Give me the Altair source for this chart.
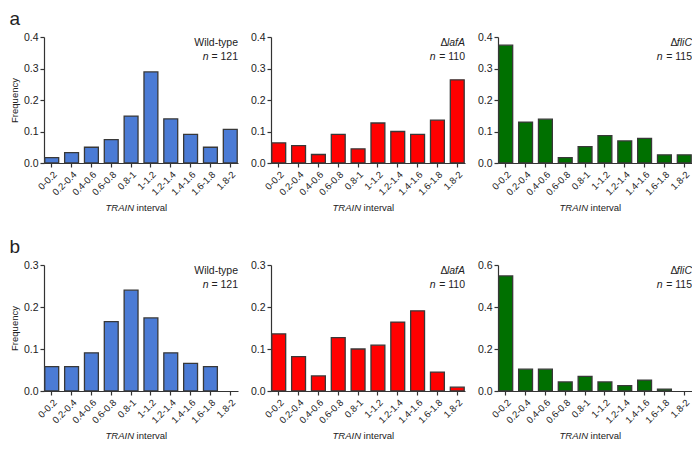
import altair as alt
import pandas as pd

intervals = ["0-0.2", "0.2-0.4", "0.4-0.6", "0.6-0.8", "0.8-1",
             "1-1.2", "1.2-1.4", "1.4-1.6", "1.6-1.8", "1.8-2"]

a_wt = [0.017, 0.033, 0.050, 0.074, 0.149, 0.289, 0.140, 0.091, 0.050, 0.107]
a_lafA = [0.064, 0.055, 0.027, 0.091, 0.045, 0.127, 0.100, 0.091, 0.136, 0.264]
a_fliC = [0.374, 0.130, 0.139, 0.017, 0.052, 0.087, 0.070, 0.078, 0.026, 0.026]

b_wt = [0.058, 0.058, 0.091, 0.165, 0.240, 0.174, 0.091, 0.066, 0.058, 0.0]
b_lafA = [0.136, 0.082, 0.036, 0.127, 0.100, 0.109, 0.164, 0.191, 0.045, 0.009]
b_fliC = [0.548, 0.104, 0.104, 0.043, 0.070, 0.043, 0.026, 0.052, 0.009, 0.0]

n_values = {"wt": 121, "lafA": 110, "fliC": 115}

BLUE = "#4b7bd5"
RED = "#ff0000"
GREEN = "#007000"
FONT = "Liberation Sans"
TXT = "#222222"
W, H = 194, 126
ANN = 10.5


def txt(text, x, y, align="right", italic=False, size=ANN):
    return alt.Chart(pd.DataFrame({"k": [0]})).mark_text(
        text=text, align=align, baseline="middle", font=FONT,
        fontSize=size, fontStyle="italic" if italic else "normal", color=TXT
    ).encode(x=alt.value(x), y=alt.value(y))


def panel(vals, color, ymax, ticks, strain, n, first):
    df = pd.DataFrame({"interval": intervals, "freq": vals})
    df = df[df["freq"] > 0]
    bars = alt.Chart(df).mark_bar(
        color=color, stroke="#383838", strokeWidth=1.3
    ).encode(
        x=alt.X("interval:N",
                scale=alt.Scale(domain=intervals, paddingInner=0.3, paddingOuter=0.04),
                axis=alt.Axis(title=None, labelAngle=-45, labelFontSize=9.5)),
        y=alt.Y("freq:Q",
                scale=alt.Scale(domain=[0, ymax], nice=False),
                axis=alt.Axis(values=ticks, format=".1f",
                              title="Frequency" if first else None)),
    )
    layers = [bars]
    if strain == "wt":
        layers.append(txt("Wild-type", W, 6))
    elif strain == "lafA":
        layers.append(txt("lafA", W, 6, italic=True))
        layers.append(txt("\u0394", W - 17.5, 6))
    else:
        layers.append(txt("fliC", W, 6, italic=True))
        layers.append(txt("\u0394", W - 14.5, 6))
    layers.append(txt(f"= {n}", W, 20))
    layers.append(txt("n", W - 29.5, 20, italic=True))
    layers.append(txt("TRAIN", W / 2 - 7, H + 45, italic=True, size=9.5))
    layers.append(txt("interval", W / 2 - 4.4, H + 45, align="left", size=9.5))
    return alt.layer(*layers).properties(width=W, height=H)


t4 = [0.0, 0.1, 0.2, 0.3, 0.4]
t3 = [0.0, 0.1, 0.2, 0.3]
t6 = [0.0, 0.2, 0.4, 0.6]

row_a = alt.hconcat(
    panel(a_wt, BLUE, 0.4, t4, "wt", n_values["wt"], True),
    panel(a_lafA, RED, 0.4, t4, "lafA", n_values["lafA"], False),
    panel(a_fliC, GREEN, 0.4, t4, "fliC", n_values["fliC"], False),
    spacing=12,
).properties(title=alt.TitleParams("a", anchor="start", fontSize=19,
                                   fontWeight="normal", font=FONT, offset=3, color=TXT))

row_b = alt.hconcat(
    panel(b_wt, BLUE, 0.3, t3, "wt", n_values["wt"], True),
    panel(b_lafA, RED, 0.3, t3, "lafA", n_values["lafA"], False),
    panel(b_fliC, GREEN, 0.6, t6, "fliC", n_values["fliC"], False),
    spacing=12,
).properties(title=alt.TitleParams("b", anchor="start", fontSize=19,
                                   fontWeight="normal", font=FONT, offset=3, color=TXT))

chart = alt.vconcat(row_a, row_b, spacing=25).properties(
    padding={"left": 1, "top": 2, "right": 0, "bottom": 0}
).configure_view(stroke=None).configure_axis(
    domainColor="#333333", tickColor="#333333", labelColor=TXT, titleColor=TXT,
    labelFont=FONT, titleFont=FONT, labelFontSize=10.5, titleFontSize=9.5,
    titleFontWeight="normal", grid=False, tickSize=4, domainWidth=1.2,
    tickWidth=1.2, labelPadding=2, titlePadding=4
)

chart.save("out.html", embed_options={"renderer": "svg", "actions": False})
